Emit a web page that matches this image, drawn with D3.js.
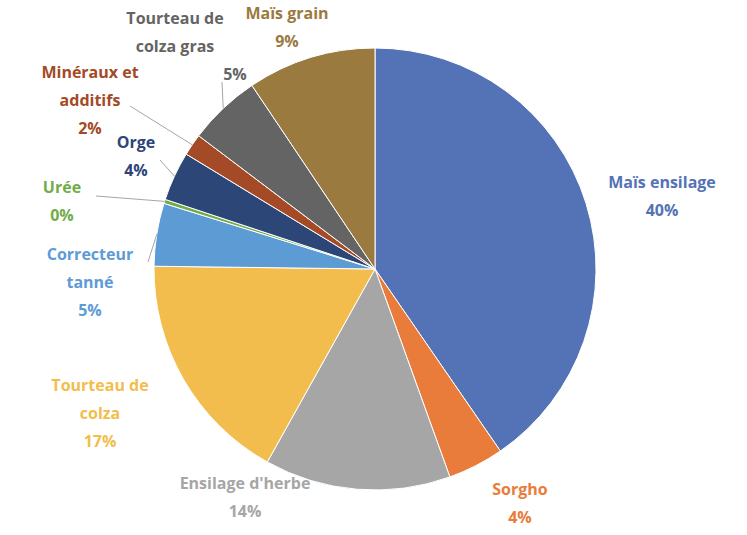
<!DOCTYPE html><html><head><meta charset="utf-8"><script src="https://d3js.org/d3.v7.min.js"></script>
<style>body{margin:0;background:#fff}text{font-family:"Open Sans","Liberation Sans",sans-serif;font-weight:bold;font-size:16px}</style></head><body>
<svg id="c" width="747" height="535"></svg>
<script>
const categories=["Maïs ensilage","Sorgho","Ensilage d'herbe","Tourteau de colza","Correcteur tanné","Urée","Orge","Minéraux et additifs","Tourteau de colza gras","Maïs grain"];
const values=[40.4,4.1,13.6,17.1,4.6,0.3,3.6,1.6,5.3,9.4];
const pctLabels=["40%","4%","14%","17%","5%","0%","4%","2%","5%","9%"];
const colors=["#5473b6","#e97c3a","#a6a6a6","#f2bd4c","#5d9bd5","#72ac4a","#2c4678","#a44a26","#646464","#9a7a3e"];
const labelLines=[["Maïs ensilage","40%"],["Sorgho","4%"],["Ensilage d'herbe","14%"],["Tourteau de","colza","17%"],["Correcteur","tanné","5%"],["Urée","0%"],["Orge","4%"],["Minéraux et","additifs","2%"],["Tourteau de","colza gras"],["Maïs grain","9%"]];
const labelPos=[[662,188],[520,495],[245,489],[100,391],[90,260],[62,193],[136,148],[90,78],[175,24],[287,19]];
const leaders=[null,null,null,null,[148,262],[96,196],[160,160],[130,106],[222,82],null];
const svg=d3.select("#c"),cx=375,cy=269,r=221;
const g=svg.append("g").attr("transform",`translate(${cx},${cy})`);
const pie=d3.pie().sort(null)(values);
const arc=d3.arc().innerRadius(0).outerRadius(r);
g.selectAll("path").data(pie).enter().append("path").attr("d",arc).attr("fill",(d,i)=>colors[i]).attr("stroke","#fff").attr("stroke-width",1);
pie.forEach((d,i)=>{
  const l=leaders[i];
  if(l){const a=(d.startAngle+d.endAngle)/2;
    svg.append("polyline").attr("points",`${l[0]},${l[1]} ${cx+Math.sin(a)*r},${cy-Math.cos(a)*r}`).attr("fill","none").attr("stroke","#a6a6a6").attr("stroke-width",1);}
  const t=svg.append("text").attr("text-anchor","middle").attr("fill",colors[i]);
  labelLines[i].forEach((s,j)=>t.append("tspan").attr("x",labelPos[i][0]).attr("y",labelPos[i][1]+j*28).text(s));
});
svg.append("text").attr("x",235).attr("y",80).attr("text-anchor","middle").attr("fill",colors[8]).text(pctLabels[8]);
</script></body></html>
